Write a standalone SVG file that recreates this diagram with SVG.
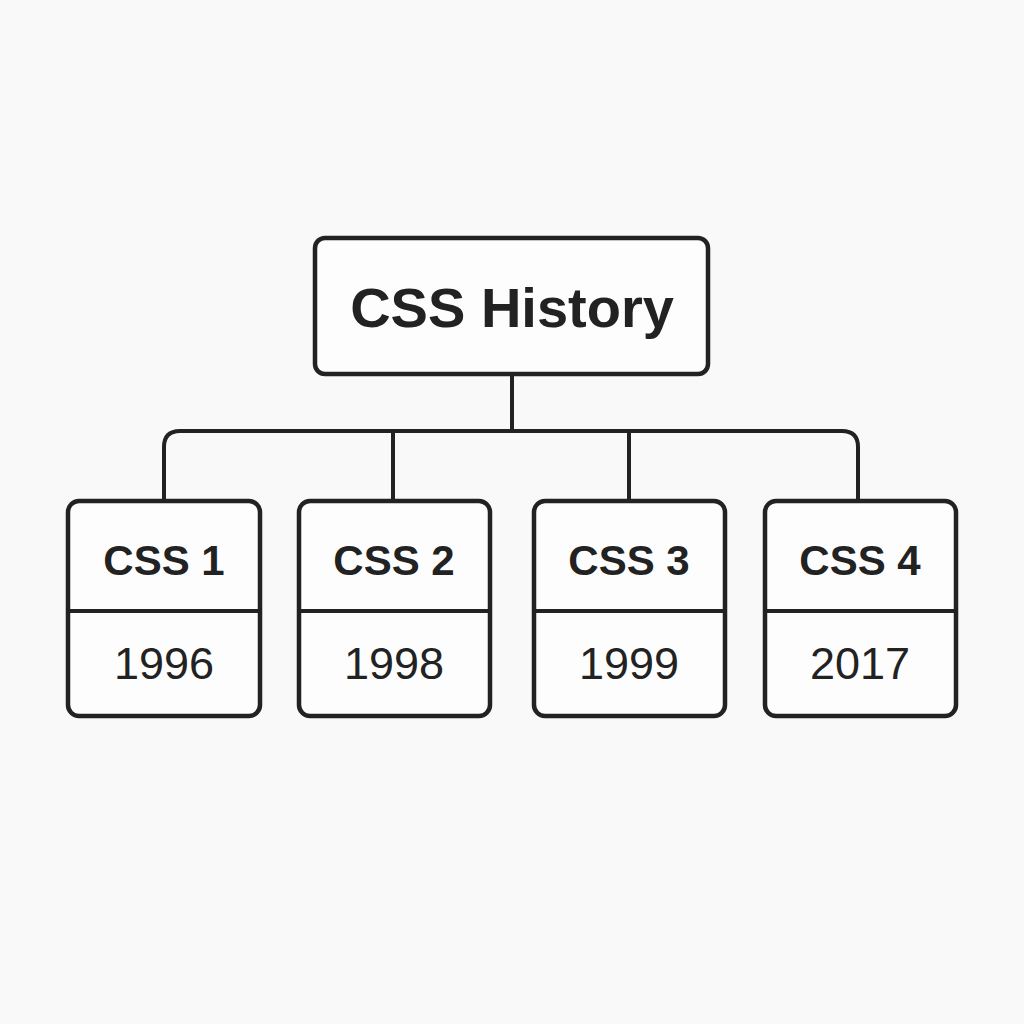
<svg xmlns="http://www.w3.org/2000/svg" width="1024" height="1024" viewBox="0 0 1024 1024">
<style>
.box{fill:#fdfdfd;stroke:#222;stroke-width:4.5}
.line{fill:none;stroke:#222;stroke-width:4}
.title{font-family:"Liberation Sans",Arial,sans-serif;font-weight:bold;font-size:56px;fill:#222;text-anchor:middle}
.name{font-family:"Liberation Sans",Arial,sans-serif;font-weight:bold;font-size:42px;fill:#222;text-anchor:middle}
.year{font-family:"Liberation Sans",Arial,sans-serif;font-size:45px;fill:#222;text-anchor:middle}
</style>
<rect width="1024" height="1024" fill="#f9f9f9"/>
<g id="connectors">
<path class="line" d="M512 375 V431"/>
<path class="line" d="M164 500 V447 Q164 431 180 431 H842 Q858 431 858 447 V500"/>
<path class="line" d="M393 431 V500"/>
<path class="line" d="M629 431 V500"/>
</g>
<g id="root">
<rect class="box" x="315" y="238" width="393" height="136" rx="10"/>
<text class="title" x="512" y="327">CSS History</text>
</g>
<g id="css1">
<rect class="box" x="68" y="501" width="192" height="215" rx="11"/>
<line class="line" x1="68" y1="611" x2="260" y2="611"/>
<text class="name" x="164" y="575">CSS 1</text>
<text class="year" x="164" y="679">1996</text>
</g>
<g id="css2">
<rect class="box" x="299" y="501" width="191" height="215" rx="11"/>
<line class="line" x1="299" y1="611" x2="490" y2="611"/>
<text class="name" x="394" y="575">CSS 2</text>
<text class="year" x="394" y="679">1998</text>
</g>
<g id="css3">
<rect class="box" x="534" y="501" width="191" height="215" rx="11"/>
<line class="line" x1="534" y1="611" x2="725" y2="611"/>
<text class="name" x="629" y="575">CSS 3</text>
<text class="year" x="629" y="679">1999</text>
</g>
<g id="css4">
<rect class="box" x="765" y="501" width="191" height="215" rx="11"/>
<line class="line" x1="765" y1="611" x2="956" y2="611"/>
<text class="name" x="860" y="575">CSS 4</text>
<text class="year" x="860" y="679">2017</text>
</g>
</svg>
